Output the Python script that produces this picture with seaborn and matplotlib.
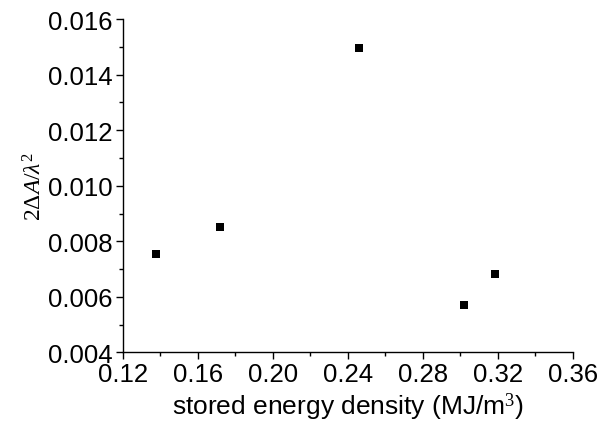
import matplotlib
matplotlib.use('Agg')
import matplotlib.pyplot as plt
from matplotlib.ticker import MultipleLocator, FormatStrFormatter
import seaborn as sns
import pandas as pd

# data
energy_density = [0.138, 0.1717, 0.2459, 0.302, 0.3186]
area_ratio = [0.00756, 0.00852, 0.01496, 0.00570, 0.00681]

sns.set_theme(style='ticks')
plt.rcParams['font.family'] = ['Liberation Sans', 'DejaVu Sans']
plt.rcParams['mathtext.fontset'] = 'custom'
plt.rcParams['mathtext.rm'] = 'Liberation Serif'
plt.rcParams['mathtext.it'] = 'Liberation Serif:italic'

df = pd.DataFrame({'x': energy_density, 'y': area_ratio})

fig = plt.figure(figsize=(5.98, 4.31), dpi=100)
ax = fig.add_axes([0.205, 0.180, 0.753, 0.7735])

sns.scatterplot(data=df, x='x', y='y', marker='s', s=36, color='black',
                edgecolor='black', linewidth=0, ax=ax)

ax.set_xlim(0.12, 0.36)
ax.set_ylim(0.004, 0.016)
ax.xaxis.set_major_locator(MultipleLocator(0.04))
ax.xaxis.set_minor_locator(MultipleLocator(0.02))
ax.yaxis.set_major_locator(MultipleLocator(0.002))
ax.yaxis.set_minor_locator(MultipleLocator(0.001))
ax.xaxis.set_major_formatter(FormatStrFormatter('%.2f'))
ax.yaxis.set_major_formatter(FormatStrFormatter('%.3f'))

for side in ['top', 'right']:
    ax.spines[side].set_visible(False)
for side in ['left', 'bottom']:
    ax.spines[side].set_color('black')
    ax.spines[side].set_linewidth(1.0)

ax.tick_params(which='major', direction='out', length=5, width=1,
               labelsize=18.5, pad=2, colors='black')
ax.tick_params(which='minor', direction='out', length=3, width=1, colors='black')

ax.set_xlabel('stored energy density (MJ/m$^3$)', fontsize=19, labelpad=3, color='black')
ax.set_ylabel(r'$2\mathit{\Delta}\mathit{A}/\lambda^2$', fontsize=17, labelpad=1, color='black')

fig.savefig('out.png', dpi=100)
